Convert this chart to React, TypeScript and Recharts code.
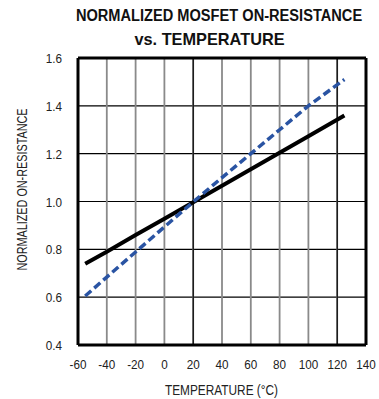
import { LineChart, Line, XAxis, YAxis, CartesianGrid, ReferenceLine, Label } from 'recharts';

const temps = [-55, -40, -20, 0, 20, 40, 60, 80, 100, 125];
const solidValues = [0.74, 0.79, 0.86, 0.928, 0.997, 1.066, 1.135, 1.204, 1.273, 1.36];
const dashedValues = [0.605, 0.684, 0.789, 0.894, 0.998, 1.1, 1.2, 1.3, 1.4, 1.51];
const xTicks = [-60, -40, -20, 0, 20, 40, 60, 80, 100, 120, 140];
const yTicks = [0.4, 0.6, 0.8, 1.0, 1.2, 1.4, 1.6];

const chartData = temps.map((t, i) => ({
  temp: t,
  solid: solidValues[i],
  dashed: dashedValues[i],
}));

const font = '"Liberation Sans", Arial, sans-serif';
const textColor = '#222';

// narrow-looking tick text (no condensed font installed)
const XTick = (props: any) => {
  const { x, y, payload } = props;
  return (
    <g transform={`translate(${x},${y})`}>
      <text transform="scale(0.9,1)" y={14} textAnchor="middle" fontSize={13} fill={textColor} fontFamily={font}>
        {payload.value}
      </text>
    </g>
  );
};

const YTick = (props: any) => {
  const { x, y, payload } = props;
  return (
    <g transform={`translate(${x},${y})`}>
      <text transform="scale(0.9,1)" y={5} textAnchor="end" fontSize={13} fill={textColor} fontFamily={font}>
        {Number(payload.value).toFixed(1)}
      </text>
    </g>
  );
};

export default function App() {
  return (
    <div style={{ position: 'absolute', left: 0, top: 0, width: 379, height: 399, background: '#fff' }}>
      <svg width={379} height={56} style={{ position: 'absolute', left: 0, top: 0 }}>
        <g transform="translate(219,21) scale(0.86,1)">
          <text x={0} y={0} textAnchor="middle" fontSize={17} fontWeight="bold" fill="#111" fontFamily={font}>
            NORMALIZED MOSFET ON-RESISTANCE
          </text>
        </g>
        <g transform="translate(209.5,45) scale(0.96,1)">
          <text x={0} y={0} textAnchor="middle" fontSize={17} fontWeight="bold" fill="#111" fontFamily={font}>
            vs. TEMPERATURE
          </text>
        </g>
      </svg>
      <LineChart
        width={379}
        height={399}
        data={chartData}
        margin={{ top: 58, right: 13, bottom: 24, left: 38 }}
        style={{ position: 'absolute', left: 0, top: 0 }}
      >
        <CartesianGrid stroke="#000" strokeWidth={1.2} vertical={false} />
        <CartesianGrid stroke="#8a8a8a" strokeWidth={1.8} horizontal={false} />
        <ReferenceLine x={20} stroke="#000" strokeWidth={1.2} />
        <ReferenceLine x={120} stroke="#000" strokeWidth={1.2} />
        <XAxis
          dataKey="temp"
          type="number"
          domain={[-60, 140]}
          ticks={xTicks}
          interval={0}
          height={30}
          tickLine={false}
          axisLine={false}
          tickSize={0}
          tickMargin={10}
          tick={<XTick />}
        >
          <Label
            content={(p: any) => {
              const vb = p.viewBox;
              return (
                <text
                  x={vb.x + vb.width / 2 - 0.5}
                  y={vb.y + 50}
                  textAnchor="middle"
                  fontSize={15.5}
                  fill={textColor}
                  fontFamily={font}
                  textLength={113}
                  lengthAdjust="spacingAndGlyphs"
                >
                  TEMPERATURE (°C)
                </text>
              );
            }}
          />
        </XAxis>
        <YAxis
          type="number"
          domain={[0.4, 1.6]}
          ticks={yTicks}
          interval={0}
          width={40}
          tickLine={false}
          axisLine={false}
          tickSize={0}
          tickMargin={16}
          tick={<YTick />}
        >
          <Label
            content={(p: any) => {
              const vb = p.viewBox;
              const cy = vb.y + vb.height / 2 - 12;
              return (
                <text
                  x={27}
                  y={cy}
                  transform={`rotate(-90, 27, ${cy})`}
                  textAnchor="middle"
                  fontSize={14.5}
                  fill={textColor}
                  fontFamily={font}
                  textLength={162}
                  lengthAdjust="spacingAndGlyphs"
                >
                  NORMALIZED ON-RESISTANCE
                </text>
              );
            }}
          />
        </YAxis>
        <Line type="linear" dataKey="solid" stroke="#000" strokeWidth={4} dot={false} isAnimationActive={false} />
        <Line
          type="linear"
          dataKey="dashed"
          stroke="#2a54a3"
          strokeWidth={3.5}
          strokeDasharray="8 4"
          dot={false}
          isAnimationActive={false}
        />
        <ReferenceLine segment={[{ x: -60, y: 0.4 }, { x: 140, y: 0.4 }]} stroke="#000" strokeWidth={3} />
        <ReferenceLine segment={[{ x: -60, y: 1.6 }, { x: 140, y: 1.6 }]} stroke="#000" strokeWidth={3} />
        <ReferenceLine segment={[{ x: -60, y: 0.4 }, { x: -60, y: 1.6 }]} stroke="#000" strokeWidth={3} />
        <ReferenceLine segment={[{ x: 140, y: 0.4 }, { x: 140, y: 1.6 }]} stroke="#000" strokeWidth={3} />
      </LineChart>
    </div>
  );
}
